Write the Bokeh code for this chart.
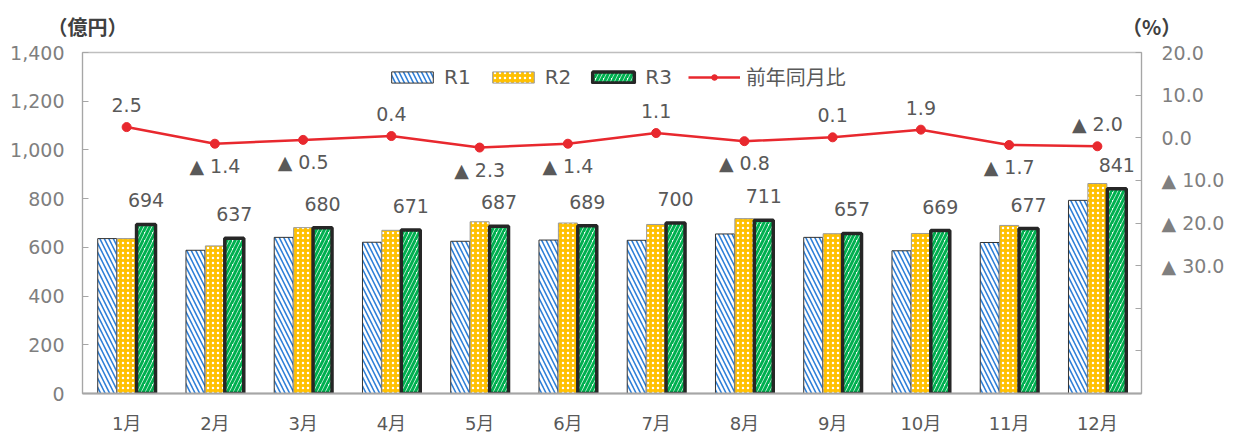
from bokeh.plotting import figure
from bokeh.models import (FactorRange, Range1d, LinearAxis, FixedTicker, CustomJSTickFormatter,
                          NumeralTickFormatter, Legend, LegendItem, Title, ColumnDataSource)
from bokeh.transform import dodge
from bokeh.core.properties import value
from bokeh.embed import file_html
from bokeh.resources import INLINE

months = ["1月", "2月", "3月", "4月", "5月", "6月", "7月", "8月", "9月", "10月", "11月", "12月"]
r1 = [636, 588, 641, 621, 625, 630, 629, 655, 641, 586, 620, 793]
r2 = [636, 606, 681, 670, 705, 700, 694, 718, 656, 657, 690, 862]
r3 = [694, 637, 680, 671, 687, 689, 700, 711, 657, 669, 677, 841]
pct = [2.5, -1.4, -0.5, 0.4, -2.3, -1.4, 1.1, -0.8, 0.1, 1.9, -1.7, -2.0]
pct_place = ["above", "below", "below", "above", "below", "below",
             "above", "below", "above", "above", "below", "above"]
left_ticks = [0, 200, 400, 600, 800, 1000, 1200, 1400]
right_ticks = [-60, -50, -40, -30, -20, -10, 0, 10, 20]
left_unit = "（億円）"
right_unit = "（%）"

NUM_FONT = "'DejaVu Sans', 'Noto Sans CJK JP'"
JP_FONT = "'Noto Sans CJK JP'"

pct_text = [f"{v:.1f}" if v >= 0 else f"▲ {abs(v):.1f}" for v in pct]
pct_off = [-22 if s == "above" else 22 for s in pct_place]

src = ColumnDataSource(dict(month=months, r1=r1, r2=r2, r3=r3, pct=pct,
                            r3_text=[str(v) for v in r3], pct_text=pct_text, pct_off=pct_off))

p = figure(x_range=FactorRange(*months), y_range=Range1d(0, 1400),
           width=1241, height=436, output_backend="svg", toolbar_location=None,
           min_border_left=82, min_border_right=100, min_border_top=52, min_border_bottom=39)
p.extra_y_ranges = {"pct": Range1d(-60, 20)}

p.xgrid.visible = False
p.ygrid.visible = False
p.outline_line_color = "#bfbfbf"
p.outline_line_width = 1.5
p.background_fill_color = "white"
p.border_fill_color = "white"

# unit captions (one title row, ideographic spaces keep the gap)
p.add_layout(Title(text=left_unit + "\u3000" * 50 + "\u00a0" + right_unit, align="left", offset=-35,
                   standoff=20, vertical_align="top", text_font=JP_FONT, text_font_size="20px",
                   text_color="#404040", text_font_style="bold"), "above")

# left axis
ya = p.yaxis[0]
ya.ticker = FixedTicker(ticks=left_ticks)
ya.formatter = NumeralTickFormatter(format="0,0")
ya.major_label_text_font_size = "19px"
ya.major_label_text_color = "#7f7f7f"
ya.major_label_text_font = NUM_FONT
ya.major_tick_in = 6
ya.major_tick_out = 0
ya.minor_tick_line_color = None
ya.axis_line_color = "#a6a6a6"
ya.major_tick_line_color = "#a6a6a6"
ya.major_label_standoff = 18

# right axis
ra = LinearAxis(y_range_name="pct")
ra.ticker = FixedTicker(ticks=right_ticks)
ra.formatter = CustomJSTickFormatter(code="""
if (tick < -30) { return ""; }
if (tick < 0) { return "\u25B2 " + Math.abs(tick).toFixed(1); }
return tick.toFixed(1);
""")
ra.major_label_text_font_size = "19px"
ra.major_label_text_color = "#7f7f7f"
ra.major_label_text_font = NUM_FONT
ra.major_tick_in = 6
ra.major_tick_out = 0
ra.minor_tick_line_color = None
ra.axis_line_color = "#a6a6a6"
ra.major_tick_line_color = "#a6a6a6"
ra.major_label_standoff = 20
p.add_layout(ra, "right")

# x axis
xa = p.xaxis[0]
xa.major_label_text_font_size = "18px"
xa.major_label_text_color = "#595959"
xa.major_label_text_font = NUM_FONT
xa.major_tick_line_color = None
xa.axis_line_color = "#a6a6a6"
xa.axis_line_width = 2
xa.major_label_standoff = 13

bw = 0.215
b1 = p.vbar(x=dodge("month", -0.22, range=p.x_range), top="r1", width=bw, source=src,
            fill_color="white", line_color="#333333", line_width=1,
            hatch_pattern="\\", hatch_color="#2f80d8", hatch_scale=9, hatch_weight=1.6)
b2 = p.vbar(x=dodge("month", 0.0, range=p.x_range), top="r2", width=bw, source=src,
            fill_color="#ffc000", line_color="#9a9a9a", line_width=1,
            hatch_pattern="dot", hatch_color="white", hatch_scale=5, hatch_weight=2)
b3 = p.vbar(x=dodge("month", 0.22, range=p.x_range), top="r3", width=bw, source=src,
            fill_color="white", line_color="#262626", line_width=3.5,
            hatch_pattern="/", hatch_color="#00b050", hatch_scale=8, hatch_weight=3)

ln = p.line(x="month", y="pct", y_range_name="pct", source=src, line_color="#e8282e", line_width=2.5)
sc = p.scatter(x="month", y="pct", y_range_name="pct", source=src, size=9,
               fill_color="#e8282e", line_color="#e8282e")

p.text(x=dodge("month", 0.22, range=p.x_range), y="r3", text="r3_text", source=src,
       text_align="center", text_baseline="middle", y_offset=-24,
       text_font=value(NUM_FONT), text_font_size="19px", text_color="#595959")
p.text(x="month", y="pct", y_range_name="pct", text="pct_text", y_offset="pct_off", source=src,
       text_align="center", text_baseline="middle",
       text_font=value(NUM_FONT), text_font_size="19px", text_color="#595959")

legend = Legend(items=[LegendItem(label="R1", renderers=[b1]),
                       LegendItem(label="R2", renderers=[b2]),
                       LegendItem(label="R3", renderers=[b3]),
                       LegendItem(label="前年同月比", renderers=[ln, sc])],
                location=(304, 302), orientation="horizontal",
                glyph_width=52, glyph_height=14, label_standoff=6, spacing=16,
                label_text_font_size="20px", label_text_color="#595959",
                label_text_font=NUM_FONT, label_text_baseline="middle",
                background_fill_alpha=0, border_line_alpha=0, padding=0, margin=0)
p.add_layout(legend)

open("out.html", "w").write(file_html(p, INLINE))
